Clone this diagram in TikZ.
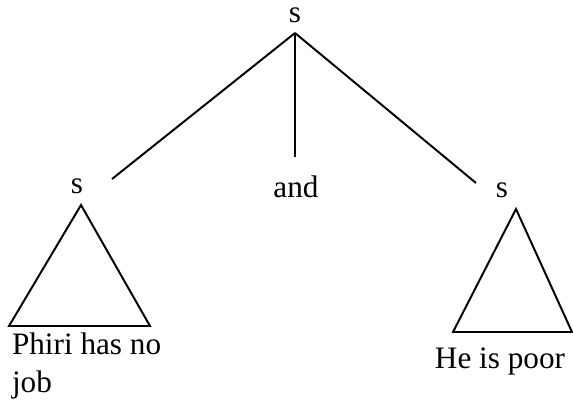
\documentclass[tikz,border=0pt]{standalone}
\usepackage{fontspec}
\setmainfont{Liberation Serif}
\usepackage{tikz}
\usetikzlibrary{positioning}

\begin{document}
\begin{tikzpicture}[x=0.025cm, y=-0.025cm,
  word/.style={inner sep=0pt, outer sep=0pt, font=\fontsize{22.2}{26.6}\selectfont},
  branch/.style={line width=1.4pt, line join=miter}
]
\useasboundingbox (0,0) rectangle (573,404);

% Root
\node[word, anchor=base] (root) at (295,22) {s};
\coordinate (fork) at (295,33);

% Daughters
\node[word, anchor=base] (leftS) at (77,193) {s};
\node[word, anchor=base] (conj) at (296,197) {and};
\node[word, anchor=base] (rightS) at (502,197) {s};

% Branch ends
\coordinate (lfoot) at (112,179);
\coordinate (mfoot) at (295,157);
\coordinate (rfoot) at (476,183);

% Triangles
\coordinate (ltop) at (81,205);
\coordinate (lbl) at (9,326);
\coordinate (lbr) at (150,326);
\coordinate (rtop) at (516,209);
\coordinate (rbl) at (453,332);
\coordinate (rbr) at (572,332);

% Terminal strings
\node[word, anchor=north west, align=left] (leftTxt) at (12,333) {Phiri has no\\job};
\node[word, anchor=base] (rightTxt) at (500,368) {He is poor};

% Connections
\draw[branch] (fork) -- (lfoot);
\draw[branch] (fork) -- (mfoot);
\draw[branch] (fork) -- (rfoot);
\draw[branch] (ltop) -- (lbl) -- (lbr) -- cycle;
\draw[branch] (rtop) -- (rbl) -- (rbr) -- cycle;

\end{tikzpicture}
\end{document}
